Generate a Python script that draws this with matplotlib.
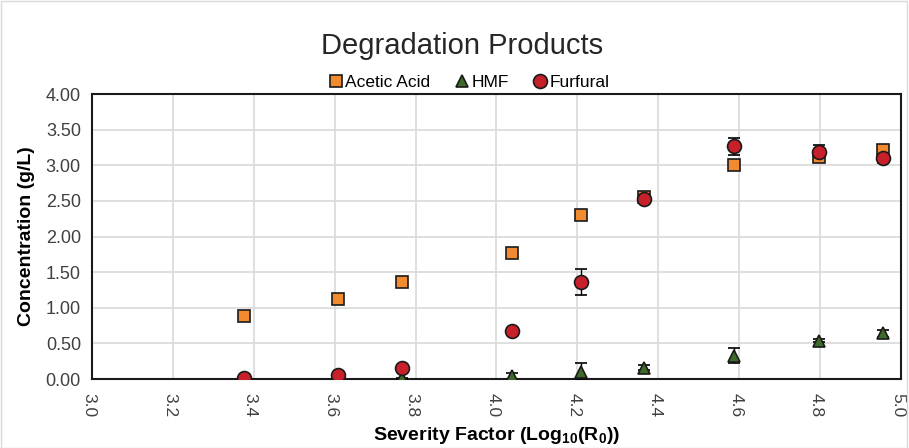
import matplotlib
matplotlib.use("Agg")
import matplotlib.pyplot as plt
import matplotlib.transforms as mtransforms
from matplotlib.patches import Rectangle
from matplotlib.lines import Line2D

plt.rcParams['font.family'] = ['Liberation Sans', 'DejaVu Sans']
plt.rcParams['mathtext.fontset'] = 'custom'
plt.rcParams['mathtext.rm'] = 'Liberation Sans'
plt.rcParams['mathtext.bf'] = 'Liberation Sans:bold'

severity = [3.376, 3.608, 3.766, 4.038, 4.209, 4.365, 4.587, 4.797, 4.956]
acetic = [0.88, 1.12, 1.36, 1.77, 2.30, 2.56, 3.00, 3.12, 3.22]
acetic_err = [0.01, 0.01, 0.01, 0.01, 0.01, 0.02, 0.01, 0.03, 0.03]
hmf = [0.00, 0.02, 0.01, 0.04, 0.10, 0.16, 0.33, 0.54, 0.64]
hmf_err = [0.00, 0.01, 0.01, 0.04, 0.12, 0.03, 0.10, 0.02, 0.05]
furfural = [0.01, 0.06, 0.15, 0.67, 1.36, 2.53, 3.27, 3.19, 3.10]
furfural_err = [0.01, 0.01, 0.01, 0.02, 0.18, 0.02, 0.12, 0.10, 0.07]

x_ticks = [3.0, 3.2, 3.4, 3.6, 3.8, 4.0, 4.2, 4.4, 4.6, 4.8, 5.0]
y_ticks = [0.0, 0.5, 1.0, 1.5, 2.0, 2.5, 3.0, 3.5, 4.0]

series = [
    ('Acetic Acid', acetic, acetic_err, 's', 9, '#F28A30'),
    ('HMF', hmf, hmf_err, '^', 9, '#3E6B2A'),
    ('Furfural', furfural, furfural_err, 'o', 10, '#C8202A'),
]

fig = plt.figure(figsize=(9.09, 4.48), dpi=100)
fig.patches.append(Rectangle((0.001, 0.001), 0.997, 0.997, transform=fig.transFigure,
                             fill=False, edgecolor='#d9d9d9', linewidth=1))
ax = fig.add_axes([0.1012, 0.154, 0.890, 0.636])

handles = []
for name, vals, errs, mk, ms, col in series:
    ax.errorbar(severity, vals, yerr=errs, marker=mk, markersize=ms, linestyle='none',
                ecolor='black', elinewidth=1, capsize=4, capthick=1,
                markerfacecolor=col, markeredgecolor='#1a1a1a', markeredgewidth=1.2,
                zorder=3)
    handles.append(Line2D([], [], marker=mk, markersize=ms, linestyle='none',
                          markerfacecolor=col, markeredgecolor='#1a1a1a',
                          markeredgewidth=1.2, label=name))

ax.set_xlim(3.0, 5.0)
ax.set_ylim(0.0, 4.0)
ax.set_xticks(x_ticks)
ax.set_xticklabels([f"{v:.1f}" for v in x_ticks], rotation=-90, fontsize=12.5, color='#404040')
ax.set_yticks(y_ticks)
ax.set_yticklabels([f"{v:.2f}" for v in y_ticks], fontsize=13, color='#404040')
ax.tick_params(axis='y', length=0, pad=8)
ax.tick_params(axis='x', length=0, pad=10)
shift = mtransforms.ScaledTranslation(-0.035, 0, fig.dpi_scale_trans)
for lbl in ax.get_xticklabels():
    lbl.set_transform(lbl.get_transform() + shift)
ax.grid(True, color='#d9d9d9', linewidth=1.2)
ax.set_axisbelow(True)
for s in ax.spines.values():
    s.set_color('#1a1a1a')
    s.set_linewidth(1.5)

ax.set_ylabel('Concentration (g/L)', fontsize=14, fontweight='bold', labelpad=8)
ax.set_xlabel(r'Severity Factor (Log$_\mathbf{10}$(R$_\mathbf{0}$))', fontsize=14,
              fontweight='bold', labelpad=6)

fig.text(0.508, 0.897, 'Degradation Products', ha='center', va='center', fontsize=21,
         color='#262626')
ax.legend(handles=handles, loc='lower center', bbox_to_anchor=(0.465, 0.985), ncol=3,
          frameon=False, fontsize=12.5, handletextpad=0.05, columnspacing=1.3,
          borderaxespad=0.1, handlelength=1.0)

fig.savefig('out.png', dpi=100)
